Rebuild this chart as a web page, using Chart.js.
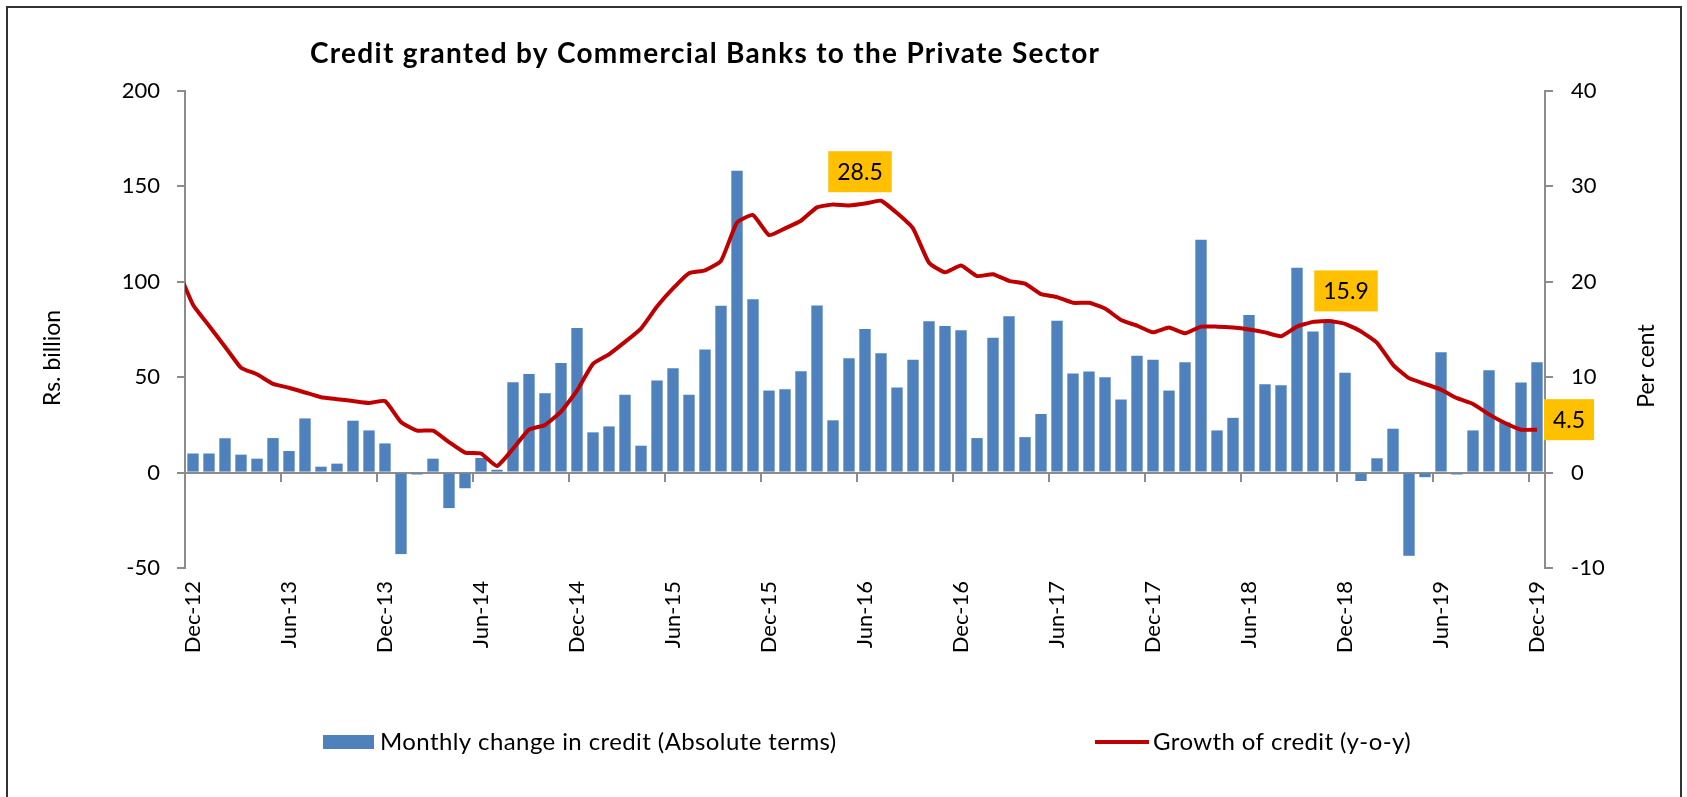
<!DOCTYPE html>
<html>
<head>
<meta charset="utf-8">
<script src="https://cdn.jsdelivr.net/npm/chart.js@4.4.1/dist/chart.umd.min.js"></script>
<style>
  body { margin: 0; background: #fff; }
  #wrap { position: relative; width: 1687px; height: 797px; overflow: hidden; }
  #frame { position: absolute; left: 6px; top: 6px; width: 1672px; height: 900px; border: 2px solid #333; }
  #creditChart { position: absolute; left: 0; top: 0; }
</style>
</head>
<body>
<div id="wrap">
  <div id="frame"></div>
  <canvas id="creditChart" width="1687" height="797"></canvas>
</div>
<script>
  // first month only feeds the start of the growth line, the axis begins at Dec-12
  const months = [
    'Nov-12', 'Dec-12',
    'Jan-13', 'Feb-13', 'Mar-13', 'Apr-13', 'May-13', 'Jun-13', 'Jul-13', 'Aug-13', 'Sep-13', 'Oct-13', 'Nov-13', 'Dec-13',
    'Jan-14', 'Feb-14', 'Mar-14', 'Apr-14', 'May-14', 'Jun-14', 'Jul-14', 'Aug-14', 'Sep-14', 'Oct-14', 'Nov-14', 'Dec-14',
    'Jan-15', 'Feb-15', 'Mar-15', 'Apr-15', 'May-15', 'Jun-15', 'Jul-15', 'Aug-15', 'Sep-15', 'Oct-15', 'Nov-15', 'Dec-15',
    'Jan-16', 'Feb-16', 'Mar-16', 'Apr-16', 'May-16', 'Jun-16', 'Jul-16', 'Aug-16', 'Sep-16', 'Oct-16', 'Nov-16', 'Dec-16',
    'Jan-17', 'Feb-17', 'Mar-17', 'Apr-17', 'May-17', 'Jun-17', 'Jul-17', 'Aug-17', 'Sep-17', 'Oct-17', 'Nov-17', 'Dec-17',
    'Jan-18', 'Feb-18', 'Mar-18', 'Apr-18', 'May-18', 'Jun-18', 'Jul-18', 'Aug-18', 'Sep-18', 'Oct-18', 'Nov-18', 'Dec-18',
    'Jan-19', 'Feb-19', 'Mar-19', 'Apr-19', 'May-19', 'Jun-19', 'Jul-19', 'Aug-19', 'Sep-19', 'Oct-19', 'Nov-19', 'Dec-19'
  ];

  // Rs. billion
  const monthlyChange = [
    null, 10,
    10, 18, 9.4, 7.3, 18.1, 11.3, 28.4, 3.1, 4.7, 27.2, 22.1, 15.3,
    -42.7, -1, 7.3, -18.6, -8.2, 7.7, 1.5, 47.4, 51.7, 41.6, 57.5, 75.8,
    21.1, 24.2, 40.8, 14.1, 48.3, 54.7, 40.8, 64.5, 87.5, 158.2, 90.9, 43.0,
    43.7, 53.1, 87.6, 27.4, 59.9, 75.3, 62.5, 44.6, 59.2, 79.3, 76.8, 74.6,
    18.1, 70.7, 81.9, 18.6, 30.7, 79.6, 51.9, 53.0, 50.0, 38.3, 61.3, 59.2,
    43.0, 57.8, 122.1, 22.1, 28.7, 82.6, 46.3, 45.8, 107.3, 74.0, 79.6, 52.3,
    -4.4, 7.5, 23.0, -43.6, -2.4, 63.1, -1, 22.1, 53.7, 26.3, 47.2, 57.8
  ];

  // per cent, year on year
  const growth = [
    21.5, 17.6,
    15.4, 13.2, 11.0, 10.3, 9.3, 8.9, 8.4, 7.9, 7.7, 7.5, 7.3, 7.5,
    5.3, 4.4, 4.4, 3.2, 2.1, 2.0, 0.7, 2.5, 4.5, 5.0, 6.4, 8.6,
    11.4, 12.4, 13.7, 15.1, 17.4, 19.3, 20.9, 21.2, 22.2, 26.2, 27.0, 24.9,
    25.6, 26.4, 27.8, 28.1, 28.0, 28.2, 28.5, 27.2, 25.6, 22.0, 21.0, 21.7,
    20.6, 20.8, 20.1, 19.8, 18.7, 18.4, 17.8, 17.8, 17.2, 16.0, 15.4, 14.7,
    15.2, 14.6, 15.3, 15.3, 15.2, 15.0, 14.7, 14.3, 15.3, 15.8, 15.9, 15.6,
    14.8, 13.6, 11.3, 9.9, 9.3, 8.7, 7.8, 7.2, 6.1, 5.2, 4.5, 4.5
  ];

  const shownTicks = ['Dec-12', 'Jun-13', 'Dec-13', 'Jun-14', 'Dec-14', 'Jun-15', 'Dec-15', 'Jun-16',
    'Dec-16', 'Jun-17', 'Dec-17', 'Jun-18', 'Dec-18', 'Jun-19', 'Dec-19'];

  // growth points that get a yellow value tag: Jun-16 peak, Nov-18 peak, Dec-19
  const calloutIdx = [44, 72, 85];
  const calloutShift = [[-21, -29], [17, -30], [32, -10]];

  const FONT = "Lato, 'Noto Sans', sans-serif";
  const BAR = '#4F81BD';
  const LINE = '#C00000';
  const AXIS = '#8C8C8C';

  Chart.defaults.font.family = FONT;
  Chart.defaults.color = '#000';

  const extras = {
    id: 'extras',
    afterDatasetsDraw(chart) {
      const ctx = chart.ctx;
      const meta = chart.getDatasetMeta(1);
      ctx.save();
      ctx.font = '23px ' + FONT;
      ctx.textAlign = 'center';
      ctx.textBaseline = 'middle';
      calloutIdx.forEach((idx, k) => {
        const pt = meta.data[idx];
        const text = growth[idx].toFixed(1);
        const w = ctx.measureText(text).width + 18;
        const h = 41;
        const cx = pt.x + calloutShift[k][0];
        const cy = pt.y + calloutShift[k][1];
        ctx.fillStyle = '#FFC000';
        ctx.fillRect(cx - w / 2, cy - h / 2, w, h);
        ctx.fillStyle = '#000';
        ctx.fillText(text, cx, cy + 1);
      });
      ctx.restore();
    },
    afterDraw(chart) {
      const ctx = chart.ctx;
      const ds = chart.data.datasets;
      ctx.save();
      ctx.fillStyle = '#000';
      ctx.textBaseline = 'middle';

      // title
      ctx.font = 'bold 28px ' + FONT;
      ctx.textAlign = 'left';
      ctx.letterSpacing = '1.3px';
      ctx.fillText('Credit granted by Commercial Banks to the Private Sector', 310, 54);
      ctx.letterSpacing = '0px';

      // axis titles
      ctx.font = '23px ' + FONT;
      ctx.textAlign = 'center';
      ctx.save();
      ctx.translate(53, 358);
      ctx.rotate(-Math.PI / 2);
      ctx.fillText('Rs. billion', 0, 0);
      ctx.restore();
      ctx.save();
      ctx.translate(1647, 366);
      ctx.rotate(-Math.PI / 2);
      ctx.fillText('Per cent', 0, 0);
      ctx.restore();

      // legend
      ctx.font = '24px ' + FONT;
      ctx.letterSpacing = '0.4px';
      ctx.textAlign = 'left';
      ctx.fillStyle = ds[0].backgroundColor;
      ctx.fillRect(323, 735, 51, 14);
      ctx.fillStyle = '#000';
      ctx.fillText(ds[0].label, 380, 742);
      ctx.strokeStyle = ds[1].borderColor;
      ctx.lineWidth = 4;
      ctx.beginPath();
      ctx.moveTo(1095, 742);
      ctx.lineTo(1149, 742);
      ctx.stroke();
      ctx.fillText(ds[1].label, 1153, 742);
      ctx.restore();
    }
  };

  const data = {
    labels: months,
    datasets: [{
      type: 'bar',
      label: 'Monthly change in credit (Absolute terms)',
      data: monthlyChange,
      backgroundColor: BAR,
      barPercentage: 0.71,
      categoryPercentage: 1,
      yAxisID: 'y',
      order: 1
    }, {
      type: 'line',
      label: 'Growth of credit (y-o-y)',
      data: growth,
      borderColor: LINE,
      borderWidth: 4,
      borderJoinStyle: 'round',
      pointRadius: 0,
      tension: 0.15,
      yAxisID: 'y1',
      order: 0
    }]
  };

  const config = {
    type: 'bar',
    data: data,
    plugins: [extras],
    options: {
      responsive: false,
      animation: false,
      layout: { padding: { top: 91, left: 0, right: 0, bottom: 0 } },
      plugins: {
        legend: { display: false },
        tooltip: { enabled: false }
      },
      scales: {
        x: {
          type: 'category',
          min: 'Dec-12',
          offset: true,
          border: { display: false },
          grid: { display: false, drawTicks: false },
          ticks: {
            autoSkip: false,
            minRotation: 90,
            maxRotation: 90,
            padding: 13,
            font: { size: 22 },
            callback: function (value) {
              const lab = this.getLabelForValue(value);
              return shownTicks.includes(lab) ? lab : '';
            }
          },
          afterFit: (scale) => { scale.height = 229; }
        },
        // zero line with a tick mark every six months
        x2: {
          type: 'category',
          axis: 'x',
          min: 'Dec-12',
          offset: true,
          position: { y: 0 },
          border: { display: true, color: AXIS, width: 2 },
          grid: {
            offset: true,
            drawOnChartArea: false,
            drawTicks: true,
            tickLength: 8,
            lineWidth: 2,
            color: (c) => (c.index % 6 === 0 ? AXIS : 'rgba(0,0,0,0)')
          },
          ticks: { display: false, autoSkip: false }
        },
        y: {
          position: 'left',
          min: -50,
          max: 200,
          ticks: { stepSize: 50, padding: 17, font: { size: 22 } },
          border: { display: true, color: AXIS, width: 2 },
          grid: { drawOnChartArea: false, drawTicks: true, tickLength: 8, color: AXIS, lineWidth: 2 },
          afterFit: (scale) => { scale.width = 185; }
        },
        y1: {
          position: 'right',
          min: -10,
          max: 40,
          ticks: { stepSize: 10, padding: 18, font: { size: 22 } },
          border: { display: true, color: AXIS, width: 2 },
          grid: { drawOnChartArea: false, drawTicks: true, tickLength: 8, color: AXIS, lineWidth: 2 },
          afterFit: (scale) => { scale.width = 142; }
        }
      }
    }
  };

  const creditChart = new Chart(document.getElementById('creditChart'), config);
</script>
</body>
</html>
